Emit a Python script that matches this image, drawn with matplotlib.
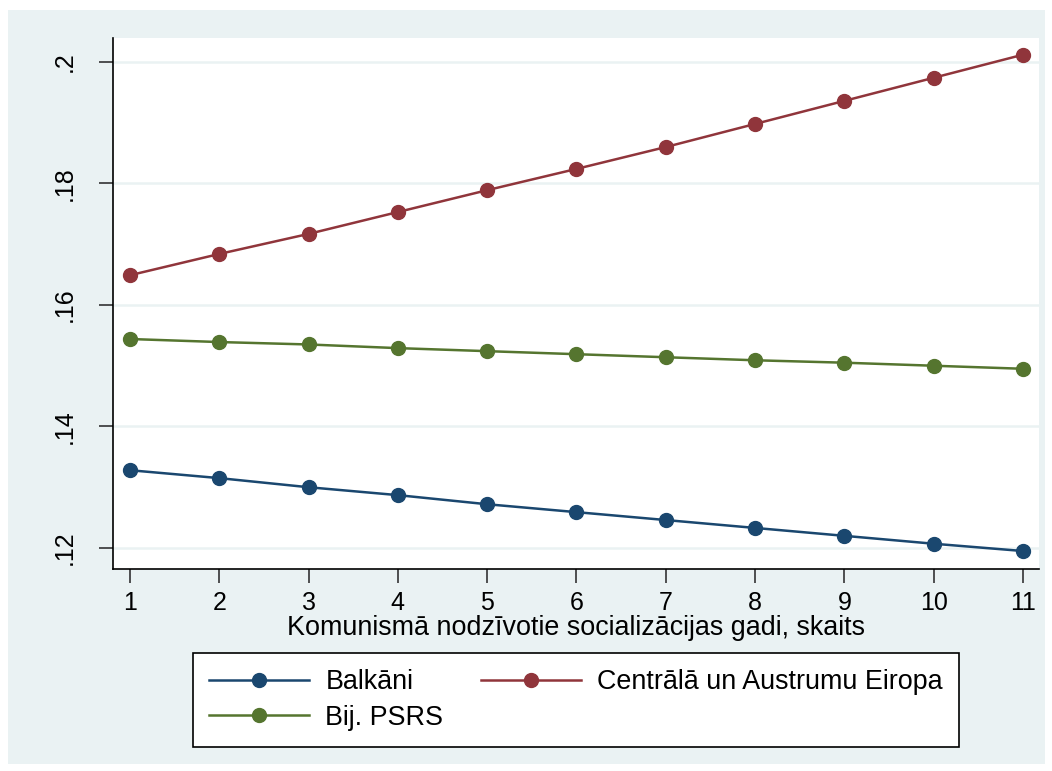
import matplotlib
matplotlib.use("Agg")
import matplotlib.pyplot as plt
from matplotlib.patches import Rectangle

plt.rcParams['font.family'] = ['Liberation Sans', 'DejaVu Sans']

years = [1, 2, 3, 4, 5, 6, 7, 8, 9, 10, 11]
balkani = [0.1328, 0.1315, 0.1300, 0.1287, 0.1272, 0.1259, 0.1246, 0.1233, 0.1220, 0.1207, 0.1195]
cae = [0.1649, 0.1684, 0.1717, 0.1753, 0.1789, 0.1824, 0.1860, 0.1898, 0.1936, 0.1974, 0.2012]
psrs = [0.1544, 0.1539, 0.1535, 0.1529, 0.1524, 0.1519, 0.1514, 0.1509, 0.1505, 0.1500, 0.1495]
yticks = [0.12, 0.14, 0.16, 0.18, 0.20]
ytick_labels = ['.12', '.14', '.16', '.18', '.2']
labels = ['Balkāni', 'Centrālā un Austrumu Eiropa', 'Bij. PSRS']
xlabel = 'Komunismā nodzīvotie socializācijas gadi, skaits'

navy = '#1A476F'
maroon = '#90353B'
green = '#55752F'
bg = '#EAF2F3'

W, H = 1052, 771
fig = plt.figure(figsize=(W / 100, H / 100), dpi=100, facecolor='white')
fig.patches.append(Rectangle((8 / W, 1 - 764 / H), (1045 - 8) / W, (764 - 10) / H,
                             transform=fig.transFigure, facecolor=bg, edgecolor='none', zorder=-10))

ax = fig.add_axes([113 / W, 1 - 569 / H, (1039 - 113) / W, (569 - 38) / H])
ax.set_zorder(2)
ax.set_facecolor('white')

lw = 1.8
ms = 10
h1, = ax.plot(years, balkani, '-o', color=navy, lw=lw, ms=ms, label=labels[0], zorder=3)
h2, = ax.plot(years, cae, '-o', color=maroon, lw=lw, ms=ms, label=labels[1], zorder=3)
h3, = ax.plot(years, psrs, '-o', color=green, lw=lw, ms=ms, label=labels[2], zorder=3)

ax.set_xlim(0.81, 11.18)
ax.set_ylim(0.11654, 0.20395)
ax.set_xticks(years)
ax.set_xticklabels([str(v) for v in years], fontsize=18)
ax.set_yticks(yticks)
ax.set_yticklabels(ytick_labels, fontsize=18, rotation=90, va='center')
ax.tick_params(axis='x', length=10, width=1.2, color='#333333', pad=6)
ax.tick_params(axis='y', length=10, width=1.2, color='#333333', pad=16)
ax.yaxis.grid(True, color=bg, lw=1.8)
ax.set_axisbelow(True)
for s in ['top', 'right']:
    ax.spines[s].set_visible(False)
for s in ['left', 'bottom']:
    ax.spines[s].set_linewidth(1.2)
    ax.spines[s].set_color('black')

ax.set_xlabel(xlabel, fontsize=19.4, labelpad=0)

leg = fig.legend(handles=[h1, h3, h2], labels=[labels[0], labels[2], labels[1]], ncol=2,
                 loc='center', bbox_to_anchor=(576 / W, 1 - 700 / H),
                 fontsize=19.4, frameon=True, fancybox=False, edgecolor='black',
                 facecolor='white', framealpha=1,
                 handlelength=3.7, columnspacing=1.4, handletextpad=0.6,
                 borderpad=0.6, labelspacing=0.35)
leg.get_frame().set_linewidth(1.2)
leg.set_zorder(5)

fig.savefig('out.png', dpi=100, facecolor='white')
